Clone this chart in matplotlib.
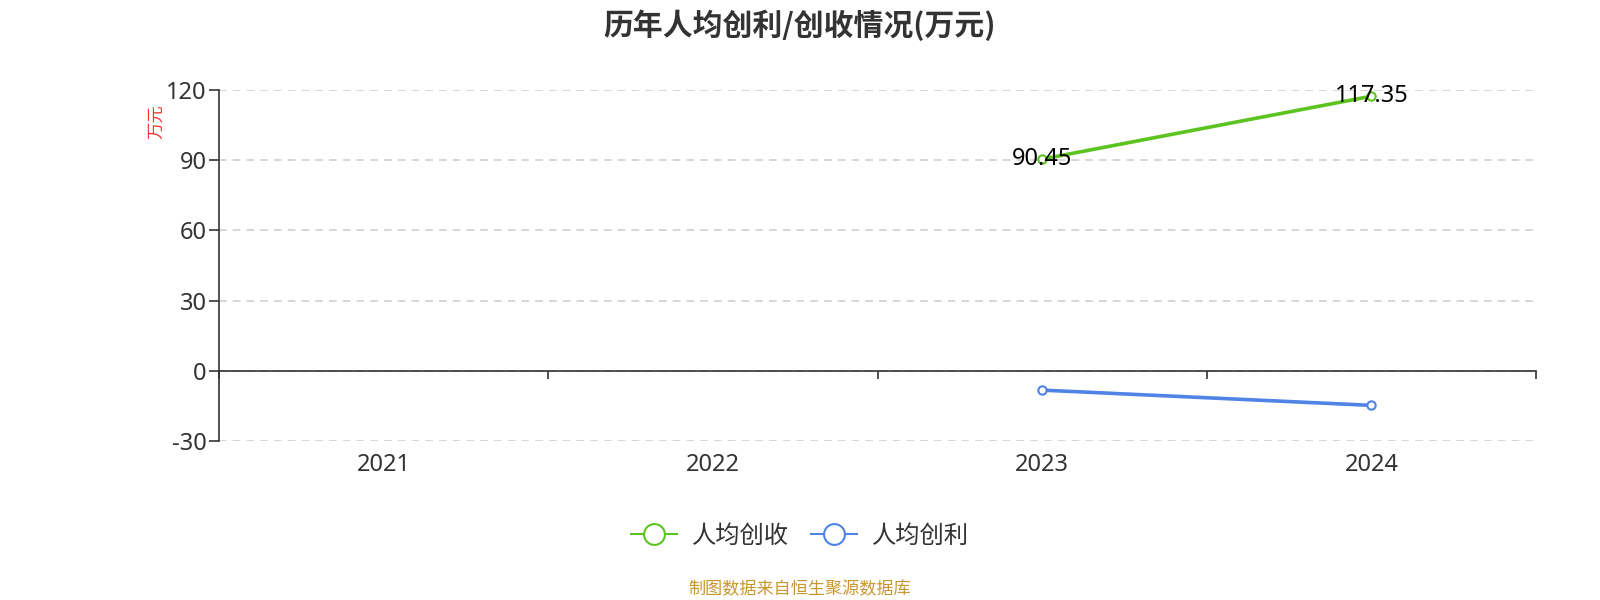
import numpy as np
import matplotlib.pyplot as plt
from matplotlib.lines import Line2D

plt.rcParams['font.family'] = ['Noto Sans', 'Noto Sans CJK SC', 'DejaVu Sans']
plt.rcParams['axes.unicode_minus'] = False

# --- data ---
years = ['2021', '2022', '2023', '2024']
revenue_per_head = [np.nan, np.nan, 90.45, 117.35]   # 人均创收
profit_per_head = [np.nan, np.nan, -8.26, -14.78]    # 人均创利
y_ticks = [-30, 0, 30, 60, 90, 120]

green = '#5cc320'
blue = '#4f84e6'
text_gray = '#333333'
cjk = ['Noto Sans CJK SC', 'DejaVu Sans']

fig = plt.figure(figsize=(16, 6), dpi=100)
ax = fig.add_axes([0.137, 0.265, 0.823, 0.585])

x = np.arange(len(years))
ax.plot(x, revenue_per_head, color=green, lw=2.6, marker='o', ms=6,
        mfc='white', mec=green, mew=1.5, zorder=3)
ax.plot(x, profit_per_head, color=blue, lw=2.6, marker='o', ms=6,
        mfc='white', mec=blue, mew=1.5, zorder=3)

# value labels on the green series
for xi, v in zip(x, revenue_per_head):
    if not np.isnan(v):
        ax.text(xi, v, f'{v:.2f}', ha='center', va='center', fontsize=17,
                color='black', zorder=4)

ax.set_xlim(-0.5, len(years) - 0.5)
ax.set_ylim(y_ticks[0], y_ticks[-1])

# category axis: ticks on boundaries, labels in the middle
ax.set_xticks(np.arange(-0.5, len(years)), labels=[''] * (len(years) + 1))
ax.set_xticks(x, labels=years, minor=True)
ax.tick_params(axis='x', which='major', direction='out', length=6, width=1.2,
               color=text_gray)
ax.tick_params(axis='x', which='minor', length=0, labelsize=17,
               labelcolor=text_gray)

ax.set_yticks(y_ticks)
ax.tick_params(axis='y', direction='out', length=7, width=1.2, color=text_gray,
               labelsize=17, labelcolor=text_gray, pad=2)

ax.spines['bottom'].set_position(('data', 0))
ax.spines['bottom'].set_color(text_gray)
ax.spines['bottom'].set_linewidth(1.2)
ax.spines['left'].set_color(text_gray)
ax.spines['left'].set_linewidth(1.2)
ax.spines['top'].set_visible(False)
ax.spines['right'].set_visible(False)

# put the year labels below the plot, not at y=0
for lab in ax.xaxis.get_minorticklabels():
    lab.set_transform(ax.get_xaxis_transform())
    lab.set_y(-0.035)
    lab.set_verticalalignment('top')

ax.yaxis.grid(True, linestyle=(0, (5, 4)), color='#cccccc', lw=1.1)
ax.set_axisbelow(True)

ax.text(-0.048, 0.91, '万元', transform=ax.transAxes, rotation=90,
        color='#ff3333', fontsize=12.5, ha='center', va='center', family=cjk)

fig.text(0.5, 0.958, '历年人均创利/创收情况(万元)', ha='center', va='center',
         fontsize=21.5, fontweight='bold', color=text_gray, family=cjk)

handles = [
    Line2D([], [], color=green, lw=1.5, marker='o', ms=15, mfc='white',
           mec=green, mew=1.5),
    Line2D([], [], color=blue, lw=1.5, marker='o', ms=15, mfc='white',
           mec=blue, mew=1.5),
]
leg = fig.legend(handles, ['人均创收', '人均创利'], loc='center',
                 bbox_to_anchor=(0.5, 0.107), ncol=2, frameon=False,
                 fontsize=17.5, labelcolor=text_gray, handlelength=1.9,
                 columnspacing=0.9, handletextpad=0.6)
for t in leg.get_texts():
    t.set_family(cjk)

fig.text(0.5, 0.018, '制图数据来自恒生聚源数据库', ha='center', va='center',
         fontsize=12.3, color='#c8962e', family=cjk)

fig.savefig('out.png', dpi=100)
